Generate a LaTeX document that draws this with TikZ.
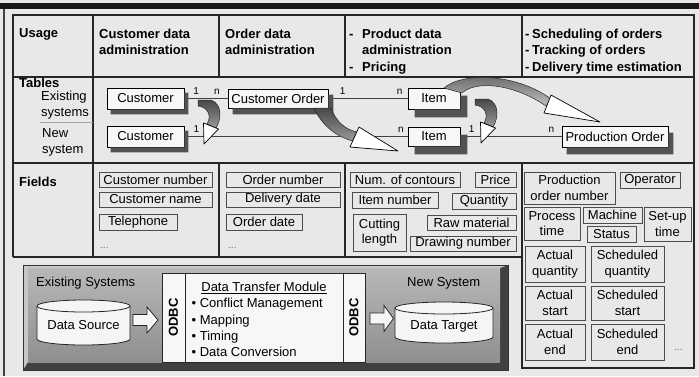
\documentclass[tikz,border=0pt]{standalone}
\usepackage{fontspec}
\setmainfont{Liberation Sans}

\pgfdeclarelayer{paper}
\pgfdeclarelayer{wires}
\pgfsetlayers{paper,wires,main}

% a node spanning the rectangle (x1,y1)-(x2,y2): style, x1, y1, x2, y2, name
\newcommand\rectnode[6]{\node[#1, minimum width={(#4)-(#2)}, minimum height={(#5)-(#3)}]
  (#6) at ({((#2)+(#4))/2},{((#3)+(#5))/2})}
% L-shaped drop shadow of a named box: name, dx, dy
\newcommand\boxshadow[3]{%
  \fill[tblshadow] ([xshift=#2pt]#1.south west) -- (#1.south east) -- ([yshift=-#3pt]#1.north east)
    -- ([xshift=#2pt,yshift=-#3pt]#1.north east) -- ([xshift=#2pt,yshift=-#3pt]#1.south east)
    -- ([xshift=#2pt,yshift=-#3pt]#1.south west) -- cycle;}

% curved migration arrow (old table -> new table)
\tikzset{
  bendarrow/.pic={
    \shadedraw[swoosh] (0,0) -- (13,0) .. controls (24,4) and (24,18) .. (18,28)
      -- (9,24) .. controls (14,16) and (10,7) .. (0,6) -- cycle;
    \filldraw[arrowhd] (5.5,23) -- (20.5,29) -- (6,44) -- cycle;
  }
}

\begin{document}
\begin{tikzpicture}[x=1pt,y=-1pt,
  txt/.style={font=\fontsize{13}{16}\selectfont, inner sep=0pt, align=left},
  hdr/.style={font=\fontsize{13}{16.7}\selectfont\bfseries, inner sep=0pt, align=left},
  gridline/.style={line width=1.5pt, draw=black!85},
  fld/.style={draw=black!70, line width=1pt, inner sep=0pt, align=center,
              font=\fontsize{13}{15.5}\selectfont},
  tbl/.style={draw=black, line width=0.8pt, fill=black!3, inner sep=0pt,
              font=\fontsize{13}{16}\selectfont},
  tblshadow/.style={fill=black!68},
  relline/.style={draw=black!75, line width=0.8pt},
  mult/.style={font=\fontsize{10}{12}\selectfont, inner sep=0pt, above=4pt},
  swoosh/.style={top color=black!72, bottom color=black!40, draw=black!85, line width=0.5pt},
  lightswoosh/.style={top color=black!62, bottom color=black!25, draw=black!85, line width=0.5pt},
  arrowhd/.style={fill=white, draw=black, line width=0.7pt, line join=round},
  mod/.style={draw=black!85, line width=0.8pt, fill=black!3, inner sep=0pt},
  cyl/.style={draw=black!85, line width=0.8pt, fill=black!4},
  blk/.style={draw=black!85, line width=0.8pt, fill=black!4, line join=miter},
  dots/.style={font=\fontsize{10}{12}\selectfont, text=black!60, inner sep=0pt, anchor=base west},
]

\begin{pgfonlayer}{paper}
  \fill[black!9] (0,0) rectangle (699,376);
\end{pgfonlayer}
\useasboundingbox (0,0) rectangle (699,376);

% page edge
\fill[black!90] (0,2.5) rectangle (699,9);
\draw[black!75, line width=1.5pt] (4,9) -- (4,376);

% ---------------- table grid ----------------
\draw[gridline, line width=1.8pt] (13,257) -- (13,15) -- (694,15) -- (694,368) -- (522,368) -- (522,163);
\draw[gridline, line width=2pt] (13,257) -- (522,257);
\draw[gridline] (13,77) -- (694,77);
\draw[gridline] (13,163) -- (694,163);
\draw[gridline] (93,15) -- (93,257);
\foreach \cx in {219,345,522} {
  \draw[gridline] (\cx,15) -- (\cx,77);
  \draw[gridline] (\cx,163) -- (\cx,257);
}
\draw[line width=0.8pt, black!35] (40,122) -- (93,122);

% ---------------- header row ----------------
\node[hdr, anchor=north west] (hUsage) at (19,28.6) {Usage};
\node[hdr, anchor=north west] (hCust) at (99,28.6) {Customer data\\administration};
\node[hdr, anchor=north west] (hOrder) at (225,28.6) {Order data\\administration};
\node[hdr, anchor=north west] (hProd) at (349,28.6)
  {-\hspace{8.7pt}Product data\\\hspace{13pt}administration\\-\hspace{8.7pt}Pricing};
\node[hdr, anchor=north west] (hSched) at (525,28.6)
  {-\hspace{2.7pt}Scheduling of orders\\-\hspace{2.7pt}Tracking of orders\\-\hspace{2.7pt}Delivery time estimation};

% ---------------- tables row ----------------
\node[hdr, anchor=west] (lTables) at (19,83) {Tables};
\node[txt, anchor=north west] (lExist) at (41,91.3) {Existing\\systems};
\node[txt, anchor=north west] (lNew) at (42,128.3) {New\\system};

\rectnode{tbl}{107}{88}{184}{109}{tCustOld} {Customer};
\rectnode{tbl}{107}{126}{184}{147}{tCustNew} {Customer};
\rectnode{tbl}{228}{89}{328}{108}{tOrder} {Customer Order};
\rectnode{tbl}{408}{88}{460}{109}{tItemOld} {Item};
\rectnode{tbl}{408}{127}{460}{146}{tItemNew} {Item};
\rectnode{tbl}{562}{126}{668}{147}{tProd} {Production Order};

\begin{pgfonlayer}{wires}
  \draw[relline] (tCustOld.east) -- node[mult, pos=0.27] {1} node[mult, pos=0.75] {n} (tOrder.west);
  \draw[relline] (tOrder.east) -- node[mult, pos=0.18] {1} node[mult, pos=0.9] {n} (tItemOld.west);
  \draw[relline] (tCustNew.east) -- node[mult, pos=0.054] {1} node[mult, pos=0.97] {n} (tItemNew.west);
  \draw[relline] (tItemNew.east) -- node[mult, pos=0.11] {1} node[mult, pos=0.9] {n} (tProd.west);
\end{pgfonlayer}

% drop shadows of the table boxes
\boxshadow{tCustOld}{4}{5}
\boxshadow{tCustNew}{4}{5}
\boxshadow{tOrder}{5}{6}
\boxshadow{tItemOld}{7}{8}
\boxshadow{tItemNew}{7}{8}
\boxshadow{tProd}{5}{7}

% migration arrows
\pic at (198,100) {bendarrow};
\pic at (475,99) {bendarrow};
\shadedraw[swoosh] (314,108) -- (331,108) .. controls (336,121) and (344,129) .. (357,132)
  -- (353,141) .. controls (337,137) and (322,126) .. (314,108) -- cycle;
\filldraw[arrowhd] (359,127) -- (398,151) -- (350,147) -- cycle;
\shadedraw[lightswoosh] (444,88) .. controls (462,72) and (516,73) .. (551,99)
  -- (546,106) .. controls (514,84) and (476,80) .. (462,93) -- cycle;
\filldraw[arrowhd] (551,95) -- (600,122) -- (544,113) -- cycle;

% ---------------- fields row ----------------
\node[hdr, anchor=west] (lFields) at (19,182) {Fields};

\rectnode{fld}{99}{172}{212}{187}{fCustNo} {Customer number};
\rectnode{fld}{99}{192}{212}{207}{fCustName} {Customer name};
\rectnode{fld}{99}{214}{177}{230}{fPhone} {Telephone};
\node[dots] (dCust) at (100,248) {...};

\rectnode{fld}{226}{172}{340}{187}{fOrderNo} {Order number};
\rectnode{fld}{226}{192}{340}{207}{fDelivery} {Delivery date};
\rectnode{fld}{226}{214}{302}{230}{fOrderDate} {Order date};
\node[dots] (dOrder) at (228,248) {...};

\rectnode{fld}{350}{172}{460}{187}{fContours} {Num. of contours};
\rectnode{fld}{475}{172}{516}{187}{fPrice} {Price};
\rectnode{fld}{352}{192}{438}{208}{fItemNo} {Item number};
\rectnode{fld}{452}{193}{516}{209}{fQty} {Quantity};
\rectnode{fld}{353}{214}{406}{251}{fCut} {Cutting\\length};
\rectnode{fld}{427}{215}{516}{230}{fRaw} {Raw material};
\rectnode{fld}{410}{236}{516}{251}{fDrawing} {Drawing number};

\rectnode{fld}{524}{172}{615}{204}{fProdNo} {Production\\order number};
\rectnode{fld}{620}{172}{680}{188}{fOperator} {Operator};
\rectnode{fld}{524}{207}{580}{240}{fProcess} {Process\\time};
\rectnode{fld}{583}{207}{642}{223}{fMachine} {Machine};
\rectnode{fld}{587}{226}{636}{242}{fStatus} {Status};
\rectnode{fld}{644}{207}{691}{241}{fSetup} {Set-up\\time};
\rectnode{fld}{525}{246}{585}{282}{fActQty} {Actual\\quantity};
\rectnode{fld}{591}{246}{664}{282}{fSchQty} {Scheduled\\quantity};
\rectnode{fld}{525}{286}{585}{320}{fActStart} {Actual\\start};
\rectnode{fld}{591}{286}{664}{320}{fSchStart} {Scheduled\\start};
\rectnode{fld}{525}{324}{585}{360}{fActEnd} {Actual\\end};
\rectnode{fld}{591}{324}{664}{360}{fSchEnd} {Scheduled\\end};
\node[dots] (dSched) at (674,350) {...};

% ---------------- migration architecture ----------------
\fill[black!75] (23,265) rectangle (508,370);
\fill[black!22] (23,265) -- (508,265) -- (500,268) -- (28,268) -- (28,362) -- (23,370) -- cycle;
\shade[top color=black!28, bottom color=black!44] (28,268) rectangle (500,362);
\draw[black!80, line width=0.6pt] (23,265) rectangle (508,370);

\node[txt, anchor=west] (lOld) at (36,283) {Existing Systems};
\node[txt, anchor=west] (lNewSys) at (407,283) {New System};

% data source
\filldraw[cyl] (37,306) -- (37,339) arc[start angle=180, end angle=0, x radius=46.5, y radius=6]
  -- (130,306) arc[start angle=0, end angle=-180, x radius=46.5, y radius=6] -- cycle;
\draw[black!85, line width=0.8pt] (37,306) arc[start angle=180, end angle=0, x radius=46.5, y radius=6];
\node[txt] (src) at (83.5,325) {Data Source};

% data target
\filldraw[cyl] (395,308) -- (395,337) arc[start angle=180, end angle=0, x radius=49, y radius=6]
  -- (493,308) arc[start angle=0, end angle=-180, x radius=49, y radius=6] -- cycle;
\draw[black!85, line width=0.8pt] (395,308) arc[start angle=180, end angle=0, x radius=49, y radius=6];
\node[txt] (tgt) at (444,326) {Data Target};

% transfer module
\rectnode{mod}{162}{273}{185}{362}{odbcL} {};
\rectnode{mod}{185}{273}{343}{362}{dtm} {};
\rectnode{mod}{343}{273}{365}{362}{odbcR} {};
\node[txt, font=\fontsize{13}{16}\selectfont\bfseries, rotate=90] (odbcLtxt) at (odbcL.center) {ODBC};
\node[txt, font=\fontsize{13}{16}\selectfont\bfseries, rotate=90] (odbcRtxt) at (odbcR.center) {ODBC};
\node[txt] (dtmTitle) at (264,288) {\underline{Data Transfer Module}};
\begin{scope}
  \clip (185,273) rectangle (343,358);
  \node[txt, font=\fontsize{13}{16.3}\selectfont, anchor=north west] (dtmList) at (191.5,298.3)
    {\textbullet\ Conflict Management\\\textbullet\ Mapping\\\textbullet\ Timing\\\textbullet\ Data Conversion};
\end{scope}

% block arrows into and out of the module
\filldraw[blk] (133,314.5) -- (147,314.5) -- (147,307) -- (158,320) -- (147,333)
  -- (147,325.5) -- (133,325.5) -- cycle;
\filldraw[blk] (370,313) -- (384,313) -- (384,305.5) -- (393.5,318.5) -- (384,331.5)
  -- (384,324) -- (370,324) -- cycle;

\end{tikzpicture}
\end{document}
